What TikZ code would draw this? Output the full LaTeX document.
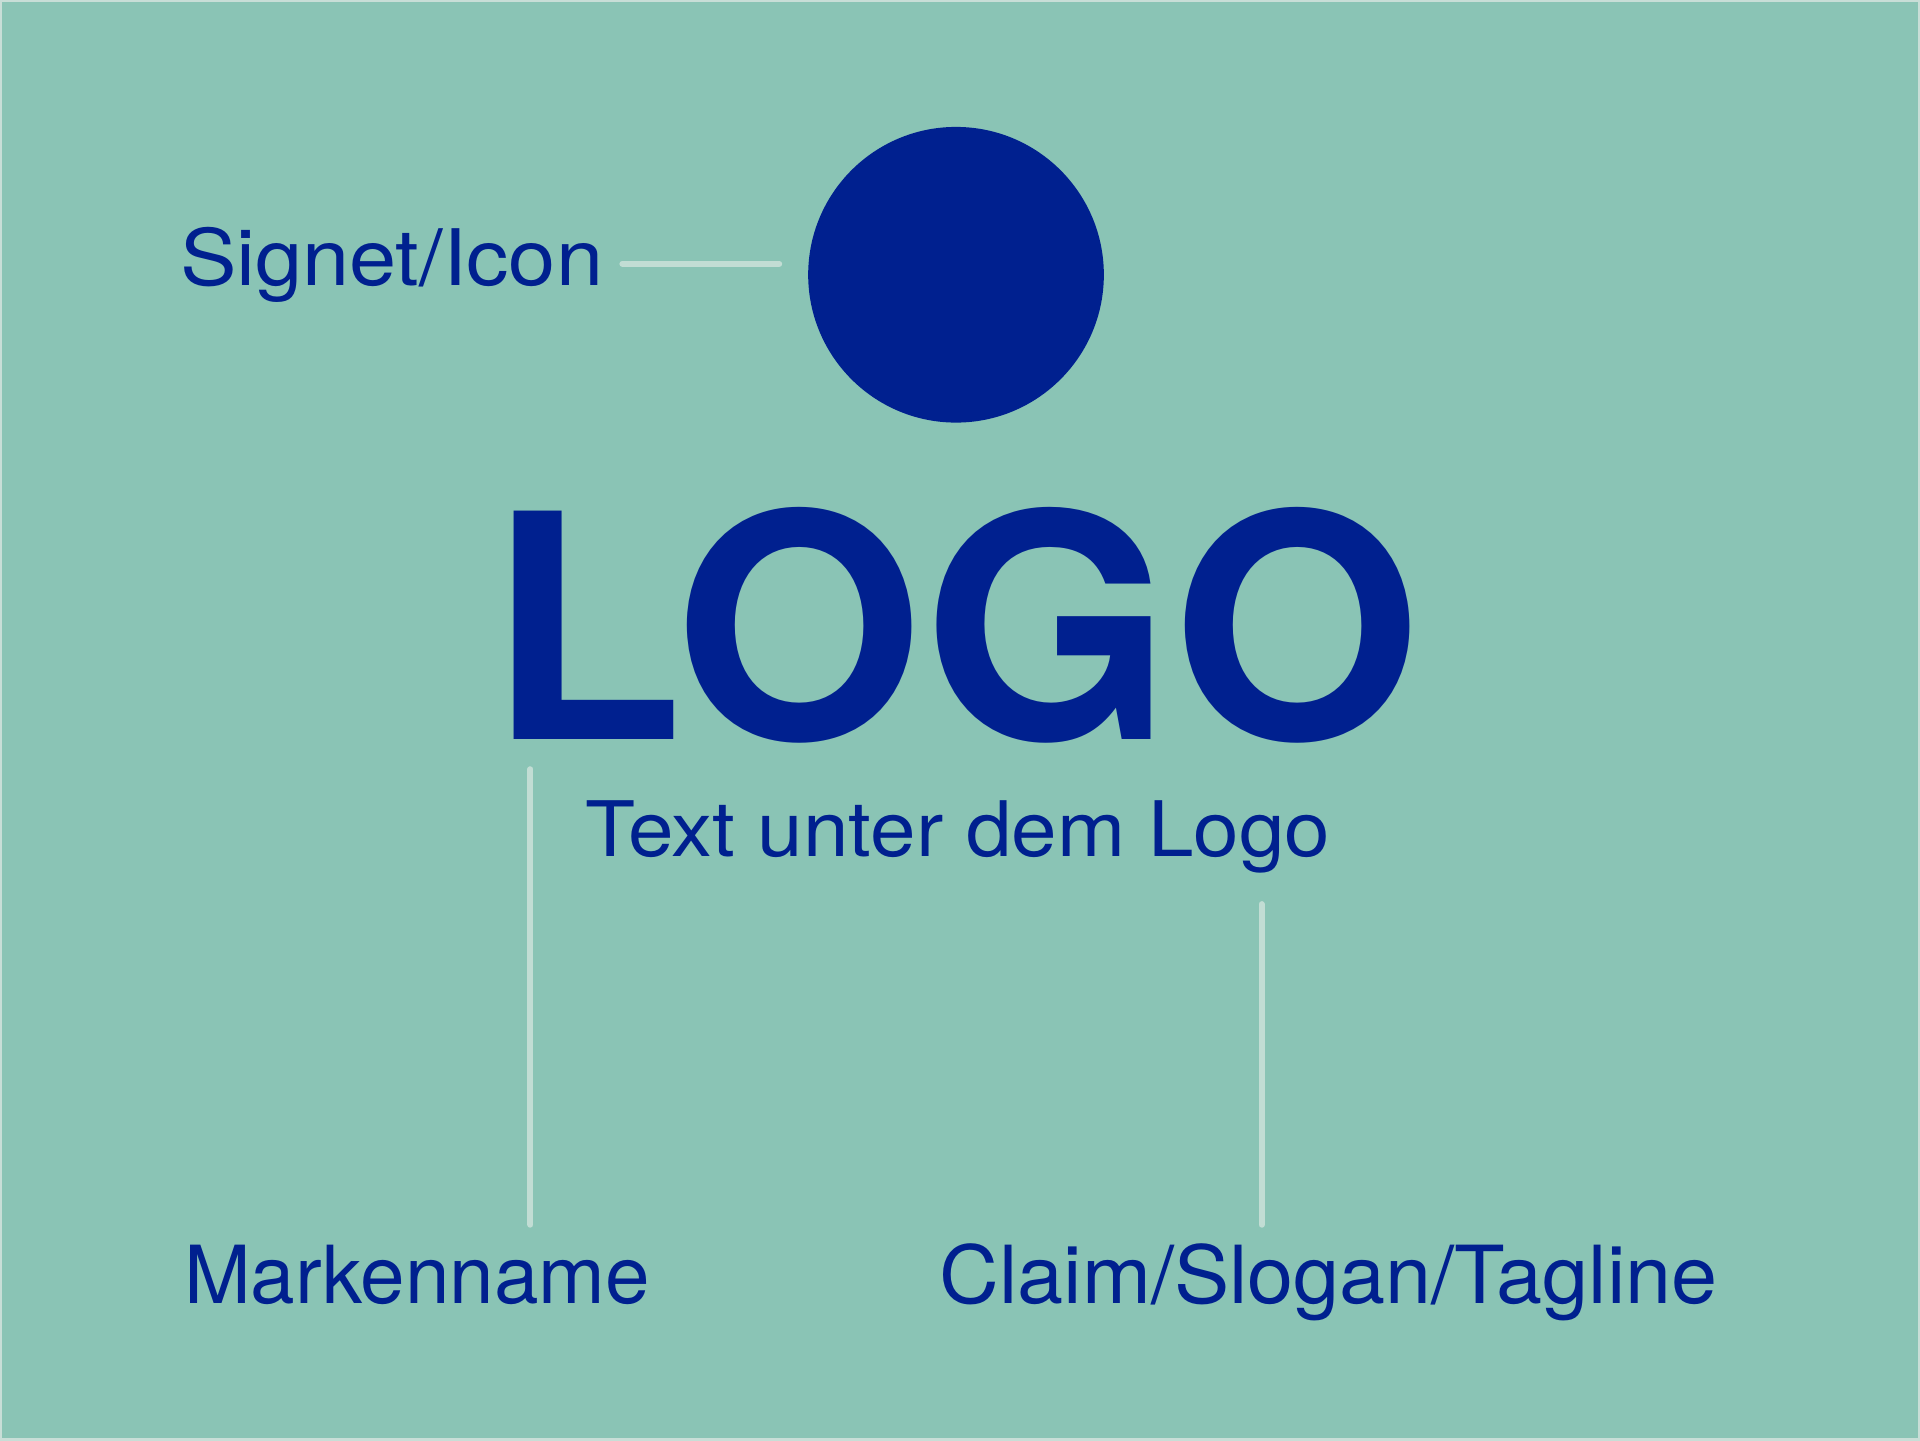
\documentclass[tikz,border=0pt]{standalone}
\usepackage{fontspec}
\setmainfont{TeX Gyre Heros}
\definecolor{bg}{HTML}{8AC4B5}
\definecolor{ink}{HTML}{00208F}
\definecolor{leader}{HTML}{C2DDD4}
\definecolor{edge}{HTML}{C8DED7}
\begin{document}
\begin{tikzpicture}[x=0.01cm,y=-0.01cm,
  lbl/.style={inner sep=0pt,anchor=base,text=ink},
  leaderline/.style={draw=leader,line width=1.7pt,line cap=round}]
\path[fill=bg,draw=edge,line width=0.6pt] (0,0) rectangle (1920,1440);
\useasboundingbox (0,0) rectangle (1920,1440);
% icon
\fill[ink] (956,274) circle[radius=148];
\coordinate (icon) at (956,274);
% texts
\node[lbl] (signet) at (391,285) {\scalebox{1.087}[1]{\fontsize{22.2}{26}\selectfont Signet/Icon}};
\node[lbl] (logo) at (955,739) {\scalebox{1.021}[1]{\fontsize{89.2}{100}\selectfont\bfseries LOGO}};
\node[lbl] (sub) at (958,856) {\scalebox{1.069}[1]{\fontsize{21.8}{26}\selectfont Text unter dem Logo}};
\node[lbl] (marke) at (416.5,1304) {\scalebox{1.0}[1]{\fontsize{22.8}{27}\selectfont Markenname}};
\node[lbl] (claim) at (1329,1304) {\scalebox{1.034}[1]{\fontsize{22.8}{27}\selectfont Claim/Slogan/Tagline}};
% leader lines
\coordinate (a1) at (622,263);
\coordinate (a2) at (779,263);
\coordinate (b1) at (530,769);
\coordinate (b2) at (530,1225);
\coordinate (c1) at (1262,904);
\coordinate (c2) at (1262,1225);
\draw[leaderline] (a1) -- (a2);
\draw[leaderline] (b1) -- (b2);
\draw[leaderline] (c1) -- (c2);
\end{tikzpicture}
\end{document}
